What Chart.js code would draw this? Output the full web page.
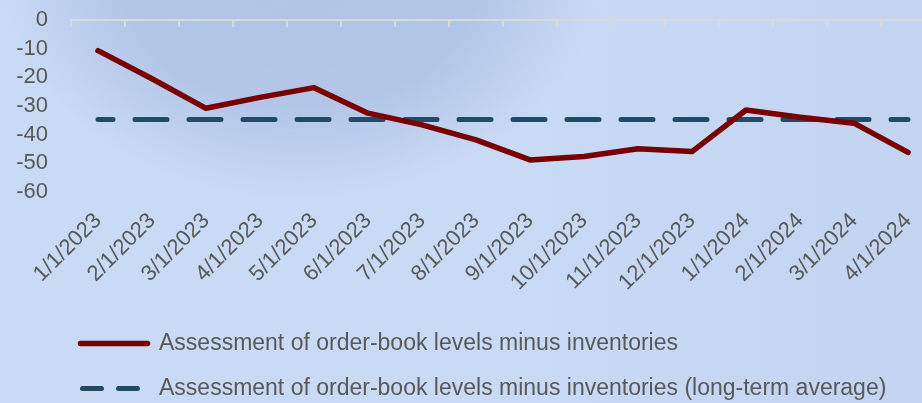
<!DOCTYPE html>
<html>
<head>
<meta charset="utf-8">
<script src="https://cdn.jsdelivr.net/npm/chart.js@4"></script>
<style>
    html, body {
        margin: 0;
        padding: 0;
        width: 922px;
        height: 403px;
        overflow: hidden;
    }
    body {
        background:
            radial-gradient(ellipse 300px 230px at 300px -30px, rgba(176,196,229,1) 0%, rgba(178,197,230,0.95) 60%, rgba(180,199,231,0) 100%),
            linear-gradient(to right, #c9daf5 0%, #c9daf5 55%, #c2d4f0 100%);
    }
    .wrap {
        position: absolute;
        left: 0;
        top: 0;
        width: 940px;
        height: 410px;
    }
</style>
</head>
<body>
<div class="wrap"><canvas id="canvas"></canvas></div>
<script>
const labels = ['1/1/2023', '2/1/2023', '3/1/2023', '4/1/2023', '5/1/2023', '6/1/2023', '7/1/2023', '8/1/2023',
    '9/1/2023', '10/1/2023', '11/1/2023', '12/1/2023', '1/1/2024', '2/1/2024', '3/1/2024', '4/1/2024'];
const orderBook = [-10.7, -20.5, -30.8, -27, -23.6, -32.5, -36.6, -41.8, -48.8, -47.6, -44.9, -45.9, -31.4, -33.9, -36, -46.2];
const longTermAvg = [-34.7, -34.7, -34.7, -34.7, -34.7, -34.7, -34.7, -34.7, -34.7, -34.7, -34.7, -34.7, -34.7, -34.7, -34.7, -34.7];
const seriesNames = ['Assessment of order-book levels minus inventories',
    'Assessment of order-book levels minus inventories (long-term average)'];
const yMin = -60;
const yMax = 0;
const yStep = 10;

const textColor = '#595959';
const fontFamily = '"Liberation Sans", Arial, sans-serif';

Chart.defaults.font.family = fontFamily;
Chart.defaults.color = textColor;

// legend sits indented under the plot, not at the canvas edge
const legendShift = {
    id: 'legendShift',
    afterLayout(chart) {
        chart.legend.left += 58.5;
    }
};

const ctx = document.getElementById('canvas').getContext('2d');
const myChart = new Chart(ctx, {
    type: 'line',
    data: {
        labels: labels,
        datasets: [
            {
                label: seriesNames[0],
                data: orderBook,
                borderColor: '#780000',
                backgroundColor: '#780000',
                borderWidth: 5.5,
                pointRadius: 0,
                tension: 0,
                borderCapStyle: 'round',
                borderJoinStyle: 'round',
                xAxisID: 'x',
            },
            {
                label: seriesNames[1],
                data: longTermAvg,
                borderColor: '#254a66',
                backgroundColor: '#254a66',
                borderWidth: 5,
                borderDash: [32, 22],
                borderDashOffset: 17,
                pointRadius: 0,
                borderCapStyle: 'round',
                borderJoinStyle: 'round',
                xAxisID: 'x',
            }
        ]
    },
    options: {
        responsive: true,
        maintainAspectRatio: false,
        animation: false,
        layout: {
            padding: { left: 0, top: 20, right: 5, bottom: 0 }
        },
        scales: {
            x: {
                type: 'category',
                position: 'bottom',
                offset: true,
                grid: { display: false },
                border: { display: false },
                ticks: {
                    minRotation: 45,
                    maxRotation: 45,
                    autoSkip: false,
                    padding: 8,
                    font: { size: 22 },
                    color: textColor
                },
                afterFit: scale => { scale.height = 118; }
            },
            x2: {
                type: 'category',
                position: 'top',
                offset: true,
                grid: {
                    offset: true,
                    drawOnChartArea: false,
                    drawTicks: true,
                    tickLength: -7,
                    color: '#d9d9d9',
                    lineWidth: 2
                },
                border: { display: true, color: '#d9d9d9', width: 2 },
                ticks: { display: false },
                afterFit: scale => { scale.height = 0; }
            },
            y: {
                min: yMin,
                max: yMax,
                grid: { display: false },
                border: { display: false },
                ticks: {
                    stepSize: yStep,
                    autoSkip: false,
                    padding: 15,
                    font: { size: 22 },
                    color: textColor
                },
                afterFit: scale => {
                    scale.width = 71;
                    scale.paddingTop = 0;
                    scale.paddingBottom = 0;
                }
            }
        },
        plugins: {
            tooltip: { enabled: false },
            legend: {
                position: 'bottom',
                align: 'start',
                labels: {
                    usePointStyle: true,
                    pointStyle: 'line',
                    pointStyleWidth: 67,
                    padding: 22,
                    color: textColor,
                    font: { size: 23, lineHeight: 1 },
                    generateLabels: chart => {
                        const items = Chart.defaults.plugins.legend.labels.generateLabels(chart);
                        items.forEach(item => {
                            item.pointStyle = 'line';
                            item.lineCap = 'round';
                        });
                        items[1].lineDash = [19, 17];
                        items[1].lineDashOffset = -2;
                        return items;
                    }
                }
            }
        }
    },
    plugins: [legendShift]
});
</script>
</body>
</html>
